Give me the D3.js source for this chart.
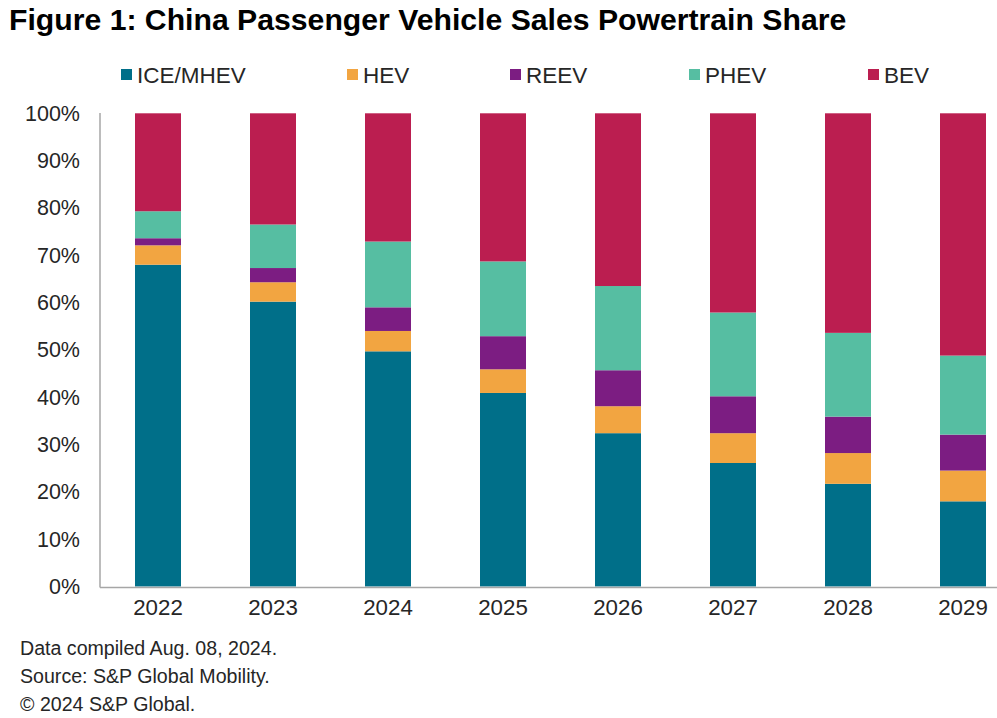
<!DOCTYPE html>
<html>
<head>
<meta charset="utf-8">
<script src="https://cdn.jsdelivr.net/npm/d3@7"></script>
<style>
  html, body { margin: 0; padding: 0; background: #ffffff; }
  svg { display: block; font-family: "Liberation Sans", Arial, sans-serif; }
</style>
</head>
<body>
<svg id="chart" width="997" height="718"></svg>
<script>
// ---- data ----
const years = ["2022", "2023", "2024", "2025", "2026", "2027", "2028", "2029"];
const seriesNames = ["ICE/MHEV", "HEV", "REEV", "PHEV", "BEV"];
const iceMhev = [68.0, 60.2, 49.7, 40.9, 32.4, 26.1, 21.7, 18.0];
const hev     = [ 4.1,  4.1,  4.3,  5.0,  5.7,  6.3,  6.5,  6.5];
const reev    = [ 1.5,  3.0,  5.0,  7.0,  7.6,  7.8,  7.7,  7.6];
const phev    = [ 5.7,  9.2, 13.9, 15.8, 17.8, 17.7, 17.7, 16.7];
const bev     = [20.7, 23.5, 27.1, 31.3, 36.5, 42.1, 46.4, 51.2];
const yTicks  = [0, 10, 20, 30, 40, 50, 60, 70, 80, 90, 100];
const titleText = "Figure 1: China Passenger Vehicle Sales Powertrain Share";
const notes = ["Data compiled Aug. 08, 2024.", "Source: S&P Global Mobility.", "\u00A9 2024 S&P Global."];

const colors = ["#006f89", "#f2a541", "#7c1d82", "#56bea2", "#bb1e50"];

// ---- build table ----
const valueArrays = [iceMhev, hev, reev, phev, bev];
const table = years.map((y, i) => {
  const row = { year: y };
  seriesNames.forEach((s, k) => row[s] = valueArrays[k][i]);
  return row;
});
const stack = d3.stack().keys(seriesNames).offset(d3.stackOffsetExpand);
const stacked = stack(table);

const svg = d3.select("#chart");

// ---- scales ----
const x = d3.scaleBand().domain(years).range([100.5, 1020.5]).paddingInner(0.6).paddingOuter(0.3);
const y = d3.scaleLinear().domain([0, 1]).range([586.5, 113.3]);

// ---- title ----
svg.append("text")
  .attr("x", 9).attr("y", 30)
  .attr("font-size", 30.2).attr("font-weight", "bold").attr("fill", "#000")
  .text(titleText);

// ---- bars ----
svg.append("g").selectAll("g")
  .data(stacked).join("g")
  .attr("fill", (d, i) => colors[i])
  .selectAll("rect")
  .data(d => d).join("rect")
  .attr("x", d => x(d.data.year))
  .attr("width", x.bandwidth())
  .attr("y", d => y(d[1]))
  .attr("height", d => y(d[0]) - y(d[1]));

// ---- axes lines ----
svg.append("line").attr("x1", 100).attr("x2", 100).attr("y1", 113).attr("y2", 587.5)
  .attr("stroke", "#a6a6a6").attr("stroke-width", 1.5);
svg.append("line").attr("x1", 100).attr("x2", 997).attr("y1", 587.5).attr("y2", 587.5)
  .attr("stroke", "#a6a6a6").attr("stroke-width", 1.5);

// ---- y axis labels ----
const yAxis = d3.axisLeft(y)
  .tickValues(yTicks.map(v => v / 100))
  .tickFormat(v => Math.round(v * 100) + "%")
  .tickSize(0).tickPadding(20);
const gy = svg.append("g").attr("transform", "translate(100,0)").call(yAxis);
gy.select(".domain").remove();
gy.selectAll("text").attr("font-size", 21.5).attr("fill", "#262626")
  .attr("font-family", "Liberation Sans, Arial, sans-serif");

// ---- x axis labels ----
const xAxis = d3.axisBottom(x).tickSize(0).tickPadding(12);
const gx = svg.append("g").attr("transform", "translate(0,587)").call(xAxis);
gx.select(".domain").remove();
gx.selectAll("text").attr("font-size", 22.3).attr("fill", "#262626")
  .attr("font-family", "Liberation Sans, Arial, sans-serif");

// ---- legend ----
const legendX = [121, 347, 510, 689, 868];
const lg = svg.append("g").selectAll("g")
  .data(seriesNames).join("g")
  .attr("transform", (d, i) => `translate(${legendX[i]},0)`);
lg.append("rect").attr("x", 0).attr("y", 69).attr("width", 11).attr("height", 11)
  .attr("fill", (d, i) => colors[i]);
lg.append("text").attr("x", 16).attr("y", 83)
  .attr("font-size", 22.5).attr("fill", "#262626")
  .text(d => d);

// ---- footnotes ----
svg.append("g").selectAll("text")
  .data(notes).join("text")
  .attr("x", 20).attr("y", (d, i) => 655 + i * 28)
  .attr("font-size", 19.6).attr("fill", "#262626")
  .text(d => d);
</script>
</body>
</html>
